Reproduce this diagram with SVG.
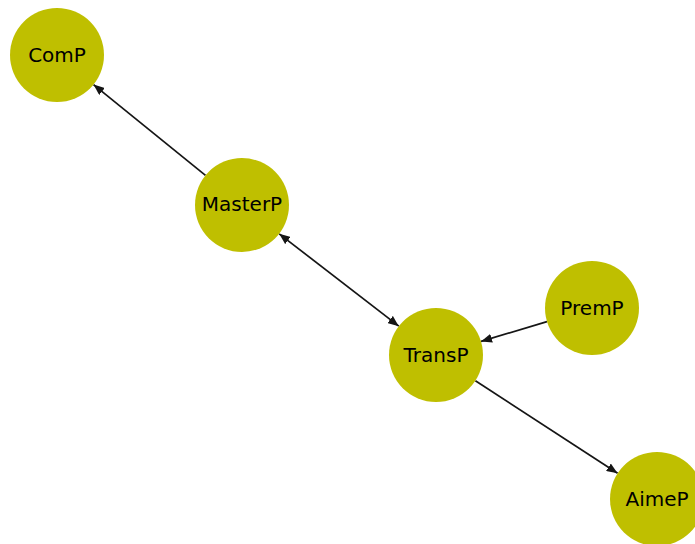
<svg xmlns="http://www.w3.org/2000/svg" width="695" height="544" viewBox="0 0 695 544">
<style>
.node circle{fill:#bfbf00;}
.node text{font-family:"DejaVu Sans",sans-serif;font-size:20px;fill:#000;text-anchor:middle;}
.edge{stroke:#151515;stroke-width:1.7;fill:none;}
</style>
<defs>
<marker id="arr" viewBox="0 0 11 9" refX="11" refY="4.5" markerWidth="11" markerHeight="9" markerUnits="userSpaceOnUse" orient="auto-start-reverse">
<path d="M0,0 L11,4.5 L0,9 Z" fill="#151515"/>
</marker>
</defs>
<rect width="695" height="544" fill="#fff"/>
<g id="connectors">
<line class="edge" x1="205.5" y1="175.4" x2="93.5" y2="84.6" marker-end="url(#arr)"/>
<line class="edge" x1="279.2" y1="233.8" x2="398.8" y2="326.2" marker-start="url(#arr)" marker-end="url(#arr)"/>
<line class="edge" x1="547" y1="321.6" x2="481" y2="341.4" marker-end="url(#arr)"/>
<line class="edge" x1="475.4" y1="380.7" x2="617.6" y2="473.3" marker-end="url(#arr)"/>
</g>
<g id="ComP" class="node"><circle cx="57" cy="55" r="47"/><text x="57" y="62">ComP</text></g>
<g id="MasterP" class="node"><circle cx="242" cy="205" r="47"/><text x="242" y="211">MasterP</text></g>
<g id="PremP" class="node"><circle cx="592" cy="308" r="47"/><text x="592" y="315">PremP</text></g>
<g id="TransP" class="node"><circle cx="436" cy="355" r="47"/><text x="436" y="362">TransP</text></g>
<g id="AimeP" class="node"><circle cx="657" cy="499" r="47"/><text x="657" y="506">AimeP</text></g>
</svg>
